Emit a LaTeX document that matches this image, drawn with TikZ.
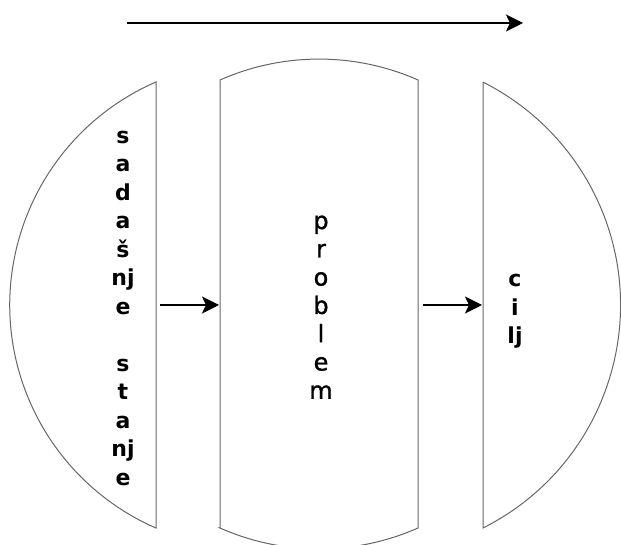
\documentclass[tikz,border=0pt]{standalone}
\usepackage{fontspec}
\setmainfont{DejaVu Sans}
\newfontfamily\midfont[FakeBold=1.2]{DejaVu Sans}
\usetikzlibrary{arrows.meta}
\begin{document}
\begin{tikzpicture}[x=1pt,y=1pt,
  piece/.style={draw=black!60,line width=1pt},
  flow/.style={draw=black,line width=2pt,-{Stealth[length=17pt,width=17pt,inset=4pt]}},
  lettera/.style={anchor=base,inner sep=0pt,font=\fontsize{22}{26}\selectfont\bfseries},
  letterb/.style={anchor=base,inner sep=0pt,font=\midfont\fontsize{24}{28}\selectfont}]
\useasboundingbox (0,0) rectangle (621,545);
% left piece
\draw[piece] (156,463) arc[start angle=113.5,end angle=246.5,radius=243.2] -- cycle;
% middle piece
\draw[piece] (220,17) -- (220,465) arc[start angle=113.85,end angle=66.15,radius=244.9]
  -- (418,17) arc[start angle=-66.15,end angle=-113.85,radius=244.9] -- cycle;
% right piece
\draw[piece] (483,463) -- (483,17) arc[start angle=-63.33,end angle=63.33,radius=249.5] -- cycle;
% texts
\foreach \t [count=\i] in {s,a,d,a,š,nj,e,{},s,t,a,nj,e}
  \node[lettera] (L\i) at (123,{401.5-28.5*(\i-1)}) {\t};
\foreach \t [count=\i] in {p,r,o,b,l,e,m}
  \node[letterb] (P\i) at (321,{316-28.3*(\i-1)}) {\t};
\foreach \t [count=\i] in {c,i,lj}
  \node[lettera] (C\i) at (515,{258-28.5*(\i-1)}) {\t};
% arrows
\coordinate (t1) at (127,522);
\coordinate (t2) at (523,522);
\draw[flow] (t1) -- (t2);
\coordinate (a1) at (160,240);
\coordinate (a2) at (219,240);
\draw[flow] (a1) -- (a2);
\coordinate (b1) at (423,240);
\coordinate (b2) at (482,240);
\draw[flow] (b1) -- (b2);
\end{tikzpicture}
\end{document}
